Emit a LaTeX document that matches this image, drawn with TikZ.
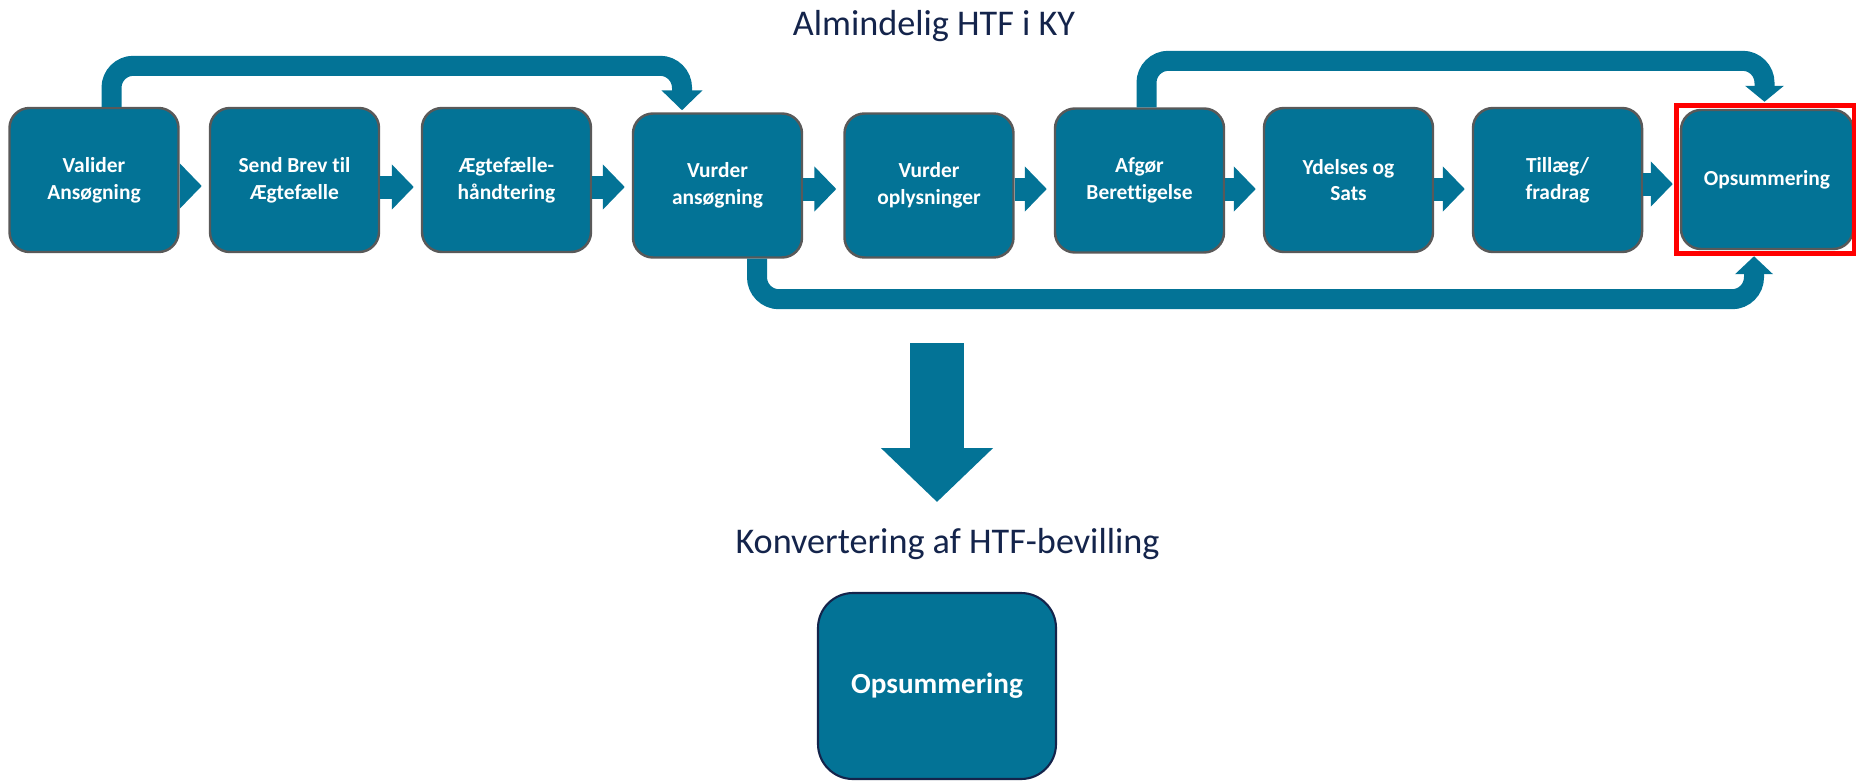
\documentclass[tikz,border=0pt]{standalone}
\usepackage{fontspec}
\setmainfont{Carlito}[Ligatures=CommonOff]
\usepackage{tikz}
\usetikzlibrary{arrows.meta}
\definecolor{boxblue}{RGB}{3,115,150}
\definecolor{boxedge}{RGB}{89,89,89}
\definecolor{navy}{HTML}{14244B}
\tikzset{
   stage/.style={draw=boxedge, line width=0.7pt, fill=boxblue,
      rounded corners=0.2cm, minimum width=1.69cm, minimum height=1.44cm,
      inner sep=0pt, align=center, text=white,
      font=\fontsize{6.1}{7.6}\selectfont\bfseries},
   flow/.style={draw=boxblue, line width=0.23cm, line cap=butt,
      -{Triangle[width=0.44cm,length=0.22cm]}, shorten >=0.07cm},
   loopline/.style={draw=boxblue, line width=0.2cm, line cap=butt,
      rounded corners=0.22cm},
   heading/.style={text=navy, anchor=base,
      font=\fontsize{10.3}{12}\selectfont},
   }

\begin{document}
\begin{tikzpicture}
            \useasboundingbox (0,0) rectangle (18.56,7.81);
            \node[heading] (title) at (9.34,7.455) {Almindelig HTF i KY};
            \node[stage] (b1) at (0.94,6.01) {Valider\\Ansøgning};
            \node[stage] (b2) at (2.945,6.01) {Send Brev til\\Ægtefælle};
            \node[stage] (b3) at (5.065,6.01) {Ægtefælle-\\håndtering};
            \node[stage] (b4) at (7.175,5.955) {Vurder\\ansøgning};
            \node[stage] (b5) at (9.29,5.955) {Vurder\\oplysninger};
            \node[stage] (b6) at (11.395,6.005) {Afgør\\Berettigelse};
            \node[stage] (b7) at (13.485,6.01) {Ydelses og\\Sats};
            \node[stage] (b8) at (15.575,6.01) {Tillæg/\\fradrag};
            \node[stage, minimum width=1.72cm, minimum height=1.39cm] (b9) at (17.67,6.015) {Opsummering};
            \draw[flow]([yshift=-0.06cm]b1.east)--([yshift=-0.06cm]b1.east -| b2.west);
            \draw[flow]([yshift=-0.07cm]b2.east)--([yshift=-0.07cm]b2.east -| b3.west);
            \draw[flow]([yshift=-0.07cm]b3.east)--([yshift=-0.07cm]b3.east -| b4.west);
            \draw[flow]([yshift=-0.035cm]b4.east)--([yshift=-0.035cm]b4.east -| b5.west);
            \draw[flow]([yshift=-0.035cm]b5.east)--([yshift=-0.035cm]b5.east -| b6.west);
            \draw[flow]([yshift=-0.085cm]b6.east)--([yshift=-0.085cm]b6.east -| b7.west);
            \draw[flow]([yshift=-0.09cm]b7.east)--([yshift=-0.09cm]b7.east -| b8.west);
            \draw[flow]([yshift=-0.04cm]b8.east)--([yshift=-0.04cm]b8.east -| b9.west);
            \draw[loopline, -{Triangle[width=0.40cm,length=0.20cm]}]([xshift=0.175cm]b1.north)
               |-([xshift=-0.355cm,yshift=0.465cm]b4.north)--([xshift=-0.355cm,yshift=0.02cm]b4.north);
            \draw[loopline, -{Triangle[width=0.38cm,length=0.16cm]}]([xshift=0.07cm]b6.north)
               |-([xshift=-0.025cm,yshift=0.48cm]b9.north)--([xshift=-0.025cm,yshift=0.07cm]b9.north);
            \draw[loopline, -{Triangle[width=0.37cm,length=0.18cm]}]([xshift=0.395cm]b4.south)
               |-([xshift=-0.13cm,yshift=-0.49cm]b9.south)--([xshift=-0.13cm,yshift=-0.06cm]b9.south);
            \draw[red, line width=0.05cm]([shift={(-0.035,0.035)}]b9.north west)
               rectangle ([shift={(0.005,-0.035)}]b9.south east);
            \coordinate (drop) at (9.37,4.38);
            \coordinate (droptip) at (9.37,2.79);
            \draw[boxblue, line width=0.54cm, -{Triangle[width=1.09cm,length=0.54cm]}](drop)--(droptip);
            \node[heading] (convert) at (9.475,2.28) {Konvertering af HTF-bevilling};
            \node[stage, draw=navy, line width=0.6pt, rounded corners=0.35cm, minimum width=2.38cm,
               minimum height=1.86cm, font=\fontsize{8.3}{10}\selectfont\bfseries] (final) at (9.37,0.95) {Opsummering};
        \end{tikzpicture}
\end{document}
